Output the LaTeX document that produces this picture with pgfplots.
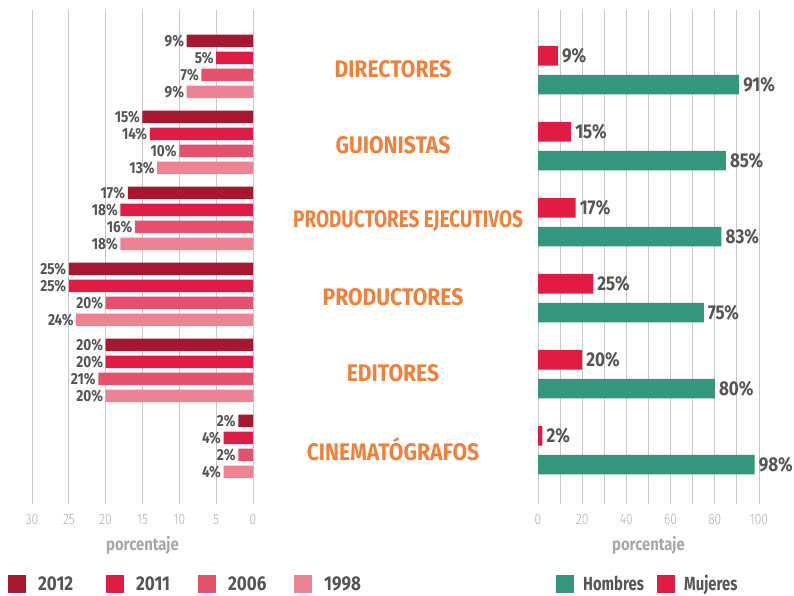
\documentclass[border=0pt]{standalone}
\usepackage{fontspec}
\setmainfont{Fira Sans}[FakeStretch=0.78]
\newfontfamily\lightfont{Fira Sans Light}[FakeStretch=0.8]
\newfontfamily\valfont{Fira Sans}[FakeStretch=0.85]
\newfontfamily\legfont{Fira Sans}[FakeStretch=0.78]
\newfontfamily\catfont{Fira Sans}[FakeStretch=0.88]
\newfontfamily\catnarrow{Fira Sans}[FakeStretch=0.79]
\usepackage{pgfplots}
\pgfplotsset{compat=1.18}

\definecolor{c2012}{HTML}{A8172F}
\definecolor{c2011}{HTML}{E01B44}
\definecolor{c2006}{HTML}{E5506A}
\definecolor{c1998}{HTML}{ED8292}
\definecolor{hombres}{HTML}{34967D}
\definecolor{mujeres}{HTML}{E01B44}
\definecolor{catorange}{HTML}{F0803A}
\definecolor{textgray}{HTML}{555555}
\definecolor{tickgray}{HTML}{B0B0B0}
\definecolor{labgray}{HTML}{A9A9A3}
\definecolor{gridgray}{HTML}{C8C8C8}

\pgfplotsset{
  panel/.style={
    xbar, scale only axis, width=221pt, height=488pt,
    ymin=-0.678, ymax=5.743, ytick=\empty,
    axis line style={draw=none},
    tick align=outside, xtick pos=bottom,
    major tick length=6pt, minor tick length=6pt,
    tick style={draw=gridgray, line width=0.9pt},
    xmajorgrids, grid style={draw=gridgray, line width=0.9pt},
    xticklabel style={font=\lightfont\fontsize{15}{15}\selectfont, text=tickgray},
    xticklabel shift=6.5pt,
    /pgf/number format/assume math mode=true,
    xlabel=porcentaje,
    xlabel style={at={(axis description cs:0.5,-0.098)}, anchor=center,
      font=\valfont\bfseries\fontsize{17.5}{17.5}\selectfont, text=labgray},
    point meta=x,
    clip=false,
    nodes near coords={\pgfmathprintnumber{\pgfplotspointmeta}\%},
    legend columns=-1,
    legend style={draw=none, fill=none, inner sep=0pt, nodes={inner sep=0pt},
      font=\valfont\bfseries\fontsize{20}{20}\selectfont, text=textgray,
      /tikz/every odd column/.append style={column sep=12pt}},
    legend image code/.code={\fill[##1] (0pt,-9pt) rectangle (18pt,9pt);},
  }
}

\begin{document}
\begin{tikzpicture}
\useasboundingbox (0,0) rectangle (794pt,595pt);

% left: share of women by year
\begin{axis}[panel, at={(32pt,97pt)}, anchor=south west,
    x dir=reverse, xmin=0, xmax=30, xtick={0,5,...,30},
    bar width=12.5pt,
    every node near coord/.append style={anchor=east, inner sep=2.5pt,
      font=\valfont\bfseries\fontsize{16}{16}\selectfont, text=textgray},
    legend style={at={(-0.1086,-0.1762)}, anchor=west},
]
\addplot[fill=c2012, draw=none, bar shift=25.5pt] coordinates {(9,5) (15,4) (17,3) (25,2) (20,1) (2,0)};
\addplot[fill=c2011, draw=none, bar shift=8.5pt] coordinates {(5,5) (14,4) (18,3) (25,2) (20,1) (4,0)};
\addplot[fill=c2006, draw=none, bar shift=-8.5pt] coordinates {(7,5) (10,4) (16,3) (20,2) (21,1) (2,0)};
\addplot[fill=c1998, draw=none, bar shift=-25.5pt] coordinates {(9,5) (13,4) (18,3) (24,2) (20,1) (4,0)};
\legend{\makebox[68pt][l]{2012}, \makebox[62pt][l]{2011}, \makebox[66pt][l]{2006}, 1998}
\end{axis}

% right: men vs women 2012
\begin{axis}[panel, at={(538pt,97pt)}, anchor=south west,
    xmin=0, xmax=100, xtick={0,20,...,100}, minor xtick={10,30,...,90},
    xminorgrids, minor grid style={draw=gridgray, line width=0.9pt},
    bar width=19.5pt,
    every node near coord/.append style={anchor=west, inner sep=4pt,
      font=\valfont\bfseries\fontsize{20}{20}\selectfont, text=textgray},
    legend style={at={(0.0814,-0.1762)}, anchor=west,
      font=\legfont\bfseries\fontsize{19}{19}\selectfont,
      /tikz/every odd column/.append style={column sep=9pt}},
]
\addplot[fill=hombres, draw=none, bar shift=-18.2pt] coordinates {(91,5) (85,4) (83,3) (75,2) (80,1) (98,0)};
\addplot[fill=mujeres, draw=none, bar shift=10.5pt] coordinates {(9,5) (15,4) (17,3) (25,2) (20,1) (2,0)};
\legend{\makebox[74pt][l]{Hombres}, Mujeres}
\begin{scope}[every node/.style={font=\catfont\bfseries\fontsize{24}{24}\selectfont, text=catorange, yshift=-2.5pt}]
\node at (axis cs:-65.6,5) {DIRECTORES};
\node at (axis cs:-65.6,4) {GUIONISTAS};
\node at (axis cs:-58.8,3) {\catnarrow\bfseries PRODUCTORES EJECUTIVOS};
\node at (axis cs:-65.6,2) {PRODUCTORES};
\node at (axis cs:-65.6,1) {EDITORES};
\node at (axis cs:-65.6,0) {CINEMATÓGRAFOS};
\end{scope}
\end{axis}
\end{tikzpicture}
\end{document}
